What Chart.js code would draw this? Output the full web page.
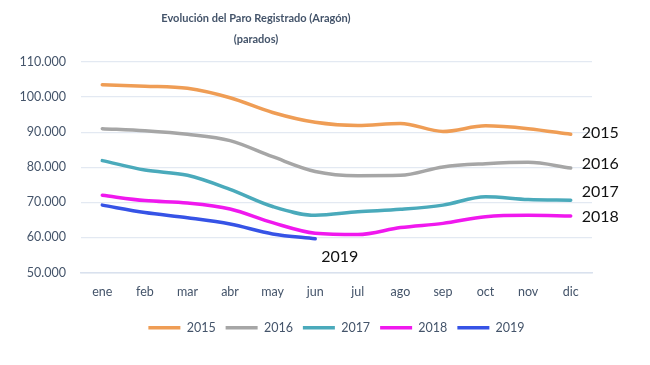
<!DOCTYPE html>
<html>
<head>
    <meta charset="utf-8">
    <title>Paro Registrado Aragón</title>
    <script src="https://cdn.jsdelivr.net/npm/chart.js"></script>
    <style>
        body { margin: 0; background: white; }
        #wrap { width: 650px; height: 365px; }
    </style>
</head>
<body>
    <div id="wrap"><canvas id="paroChart" width="650" height="365"></canvas></div>
    <script>
        const months = ["ene", "feb", "mar", "abr", "may", "jun", "jul", "ago", "sep", "oct", "nov", "dic"];
        const years = ["2015", "2016", "2017", "2018", "2019"];
        const paro2015 = [103500, 103100, 102500, 99800, 95600, 92800, 91900, 92500, 90200, 91800, 91000, 89400];
        const paro2016 = [91000, 90400, 89400, 87600, 83000, 78800, 77600, 77700, 80100, 81000, 81400, 79800];
        const paro2017 = [81900, 79200, 77700, 73700, 68800, 66300, 67300, 68000, 69200, 71600, 70800, 70600];
        const paro2018 = [72000, 70500, 69800, 68100, 64200, 61200, 60800, 62800, 64000, 65900, 66300, 66100];
        const paro2019 = [69200, 67100, 65600, 63800, 61000, 59600];
        const yTicks = [50000, 60000, 70000, 80000, 90000, 100000, 110000];
        const titleLines = ["Evolución del Paro Registrado (Aragón)", "(parados)"];
        const colors = ["#ef9d55", "#a6a6a6", "#4aaabb", "#f018ee", "#3653e6"];

        const series = [paro2015, paro2016, paro2017, paro2018, paro2019];
        const fontFam = "Lato, 'Open Sans', sans-serif";

        // titulo: en el original no va centrado sobre el lienzo
        const titleText = {
            id: "titleText",
            afterDraw(chart) {
                const ctx = chart.ctx;
                ctx.save();
                ctx.font = "bold 11px " + fontFam;
                ctx.fillStyle = "#44546a";
                ctx.textAlign = "center";
                ctx.textBaseline = "middle";
                ctx.fillText(titleLines[0], 256, 18);
                ctx.fillText(titleLines[1], 256, 39);
                ctx.restore();
            }
        };

        // etiquetas de año junto a cada serie
        const endLabels = {
            id: "endLabels",
            afterDatasetsDraw(chart) {
                const ctx = chart.ctx;
                ctx.save();
                ctx.font = "16px " + fontFam;
                ctx.fillStyle = "#111";
                ctx.textBaseline = "middle";
                ctx.textAlign = "left";
                chart.data.datasets.forEach((ds, i) => {
                    const meta = chart.getDatasetMeta(i);
                    const last = meta.data[meta.data.length - 1];
                    if (i === 4) {
                        ctx.fillText(ds.label, last.x + 6, last.y + 18);
                    } else {
                        const dy = [-1, -4, -8, 1][i];
                        ctx.fillText(ds.label, last.x + 11, last.y + dy);
                    }
                });
                ctx.restore();
            }
        };

        new Chart(document.getElementById("paroChart"), {
            type: "line",
            data: {
                labels: months,
                datasets: years.map((y, i) => ({
                    label: y,
                    data: series[i],
                    borderColor: colors[i],
                    backgroundColor: colors[i],
                    borderWidth: 3.5,
                    pointRadius: 0,
                    tension: 0.4,
                    cubicInterpolationMode: "monotone",
                    borderCapStyle: "round"
                }))
            },
            options: {
                responsive: false,
                animation: false,
                layout: { padding: { top: 62, right: 58, bottom: 21, left: 0 } },
                plugins: {
                    title: { display: false },
                    legend: {
                        position: "bottom",
                        fullSize: false,
                        labels: {
                            usePointStyle: true,
                            pointStyle: "line",
                            pointStyleWidth: 32,
                            color: "#44546a",
                            font: { family: fontFam, size: 12.5 },
                            padding: 10
                        }
                    },
                    tooltip: { enabled: false }
                },
                scales: {
                    x: {
                        offset: true,
                        grid: { display: false, drawTicks: false },
                        border: { color: "#d9e1ee", width: 1.5 },
                        ticks: { color: "#44546a", font: { family: fontFam, size: 12.5 }, padding: 12 }
                    },
                    y: {
                        min: 50000,
                        max: 110000,
                        afterFit(axis) { axis.width = 81; },
                        afterBuildTicks(axis) { axis.ticks = yTicks.map(v => ({ value: v })); },
                        grid: { color: "#e3e9f2", drawTicks: false, lineWidth: 1.2 },
                        border: { display: false },
                        ticks: {
                            color: "#44546a",
                            font: { family: fontFam, size: 12.5 },
                            padding: 15,
                            callback: v => v.toLocaleString("de-DE")
                        }
                    }
                }
            },
            plugins: [endLabels, titleText]
        });
    </script>
</body>
</html>
